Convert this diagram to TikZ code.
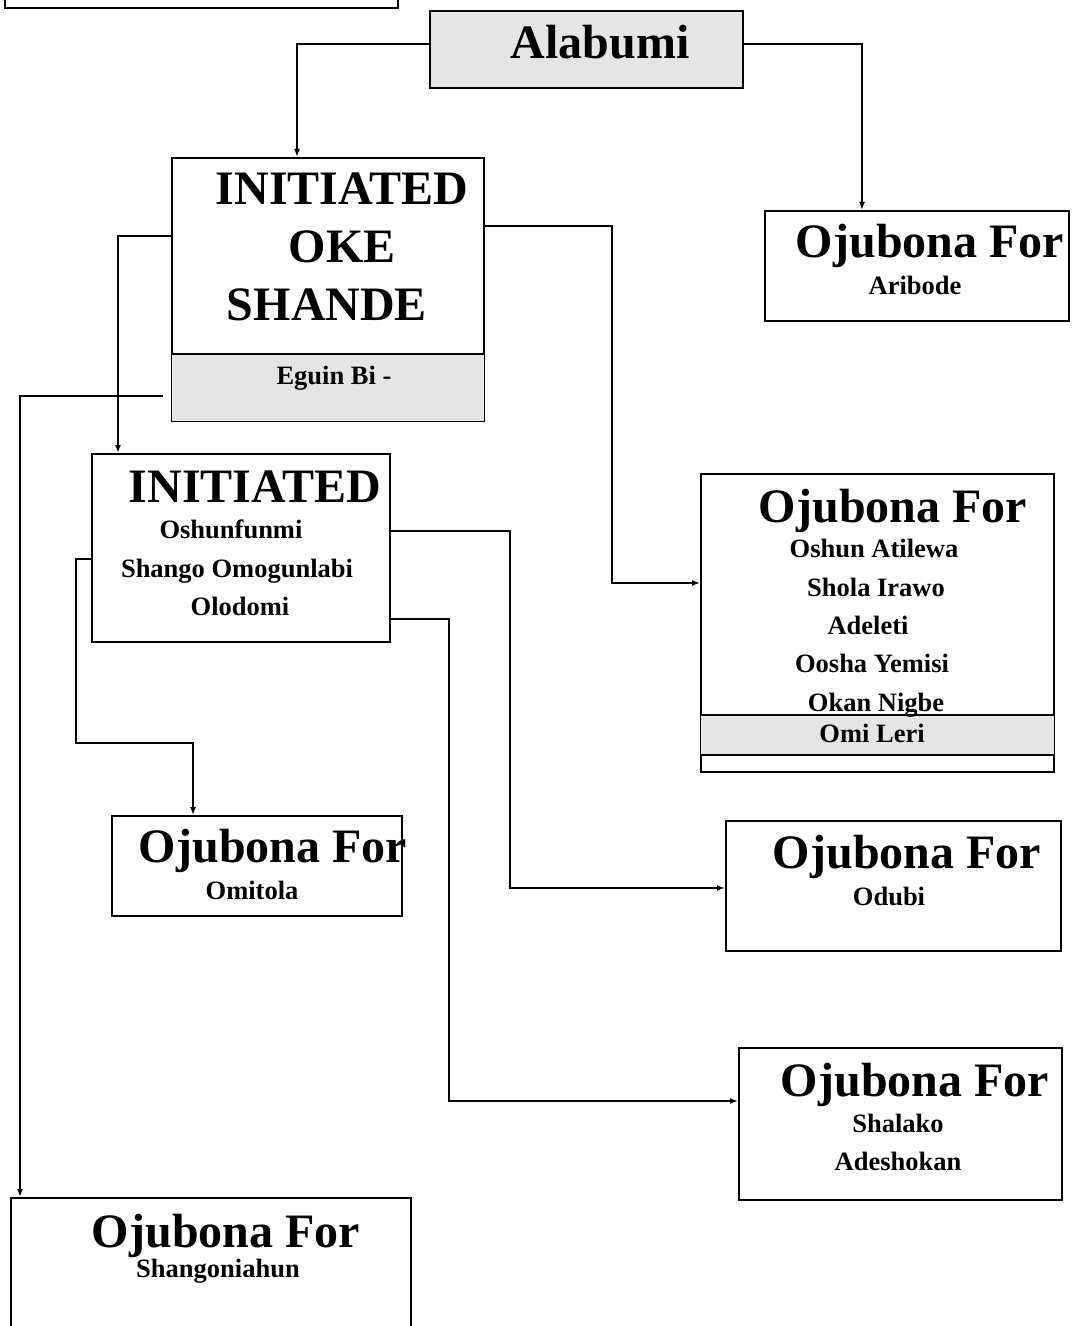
\documentclass[tikz,border=0pt]{standalone}
\usepackage{fontspec}
\setmainfont{Liberation Serif}
\usetikzlibrary{arrows.meta}
\tikzset{
  box/.style={draw, line width=1.9bp, inner sep=0pt, anchor=north west},
  shadefill/.style={fill=black!10},
  divline/.style={line width=1.9bp},
  conn/.style={line width=1.7bp, -{Latex[length=8bp,width=6bp]}},
  big/.style={anchor=base, inner sep=0pt, font=\fontsize{48bp}{50bp}\selectfont\bfseries},
  mid/.style={anchor=base, inner sep=0pt, font=\fontsize{26.5bp}{28bp}\selectfont\bfseries},
}
\begin{document}
\begin{tikzpicture}[x=1bp,y=-1bp]
\useasboundingbox (0,0) rectangle (1071,1326);
% boxes
\node[box, minimum width=393bp, minimum height=47bp] (topbox) at (4,-40) {};
\node[box, shadefill, minimum width=313bp, minimum height=77bp] (alab) at (429,10) {};
\node[box, minimum width=312bp, minimum height=263bp] (oke) at (171,157) {};
\fill[shadefill] ([xshift=1bp,yshift=1bp]oke.south west) rectangle ([xshift=-1bp]oke.east |- 0,355);
\draw[divline] (oke.west |- 0,354) -- (oke.east |- 0,354);
\node[box, minimum width=304bp, minimum height=110bp] (arib) at (764,210) {};
\node[box, minimum width=298bp, minimum height=188bp] (init) at (91,453) {};
\node[box, minimum width=353bp, minimum height=298bp] (oshun) at (700,473) {};
\fill[shadefill] ([xshift=1bp]oshun.west |- 0,716) rectangle ([xshift=-1bp]oshun.east |- 0,754);
\draw[divline] (oshun.west |- 0,715) -- (oshun.east |- 0,715);
\draw[divline] (oshun.west |- 0,755) -- (oshun.east |- 0,755);
\node[box, minimum width=290bp, minimum height=100bp] (omit) at (111,815) {};
\node[box, minimum width=335bp, minimum height=130bp] (odubi) at (725,820) {};
\node[box, minimum width=323bp, minimum height=152bp] (shal) at (738,1047) {};
\node[box, minimum width=400bp, minimum height=160bp] (shang) at (10,1197) {};
% texts
\node[big] (tAlab) at (600,59) {Alabumi};
\node[big] (tOke1) at (342,205) {INITIATED};
\node[big] (tOke2) at (342,263) {OKE};
\node[big] (tOke3) at (327,321) {SHANDE};
\node[mid] (tEguin) at (334,384) {Eguin Bi -};
\node[big] (tArib1) at (930,258) {Ojubona For};
\node[mid] (tArib2) at (915,295) {Aribode};
\node[big] (tInit1) at (255,502) {INITIATED};
\node[mid] (tInit2) at (231,538) {Oshunfunmi};
\node[mid] (tInit3) at (237,577) {Shango Omogunlabi};
\node[mid] (tInit4) at (240,615) {Olodomi};
\node[big] (tOsh0) at (893,522) {Ojubona For};
\node[mid] (tOsh1) at (874,557) {Oshun Atilewa};
\node[mid] (tOsh2) at (876,596) {Shola Irawo};
\node[mid] (tOsh3) at (868,634) {Adeleti};
\node[mid] (tOsh4) at (872,672) {Oosha Yemisi};
\node[mid] (tOsh5) at (876,711) {Okan Nigbe};
\node[mid] (tOsh6) at (872,742) {Omi Leri};
\node[big] (tOmit1) at (273,862) {Ojubona For};
\node[mid] (tOmit2) at (252,899) {Omitola};
\node[big] (tOdu1) at (907,868) {Ojubona For};
\node[mid] (tOdu2) at (889,905) {Odubi};
\node[big] (tShal1) at (915,1096) {Ojubona For};
\node[mid] (tShal2) at (898,1132) {Shalako};
\node[mid] (tShal3) at (898,1170) {Adeshokan};
\node[big] (tShang1) at (226,1247) {Ojubona For};
\node[mid] (tShang2) at (218,1277) {Shangoniahun};
% connectors
\draw[conn] ([yshift=5.5bp]alab.west) -| ([xshift=126bp]oke.north west);
\draw[conn] ([yshift=5.5bp]alab.east) -| ([xshift=98bp]arib.north west);
\draw[conn] ([yshift=63.5bp]oke.east) -- ++(127,0) |- ([yshift=40bp]oshun.west);
\draw[conn] ([yshift=53.5bp]oke.west) -| ([xshift=27bp]init.north west);
\draw[conn] ([xshift=-8bp,yshift=-106.5bp]oke.west) -| ([xshift=10bp]shang.north west);
\draw[conn] ([yshift=17bp]init.east) -- ++(119,0) |- ([yshift=-2bp]odubi.west);
\draw[conn] ([yshift=-71bp]init.east) -- ++(58,0) |- ([yshift=23bp]shal.west);
\draw[conn] ([yshift=-11bp]init.west) -- ++(-15,0) -- ++(0,184) -| ([xshift=82bp]omit.north west);
\end{tikzpicture}
\end{document}
